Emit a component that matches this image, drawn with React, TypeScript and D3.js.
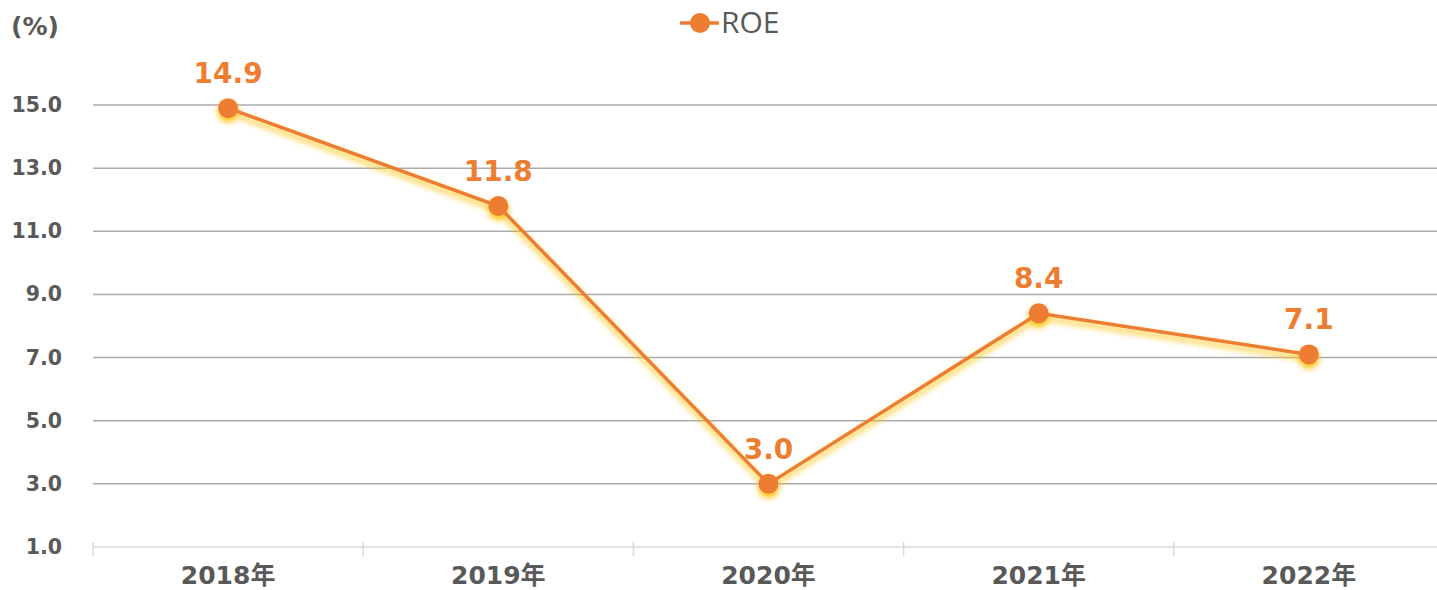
import React, { useEffect, useRef } from "react";
import * as d3 from "d3";

const years = ["2018年", "2019年", "2020年", "2021年", "2022年"];
const roe = [14.9, 11.8, 3.0, 8.4, 7.1];
const yTicks = [1, 3, 5, 7, 9, 11, 13, 15];

const ORANGE = "#ED7D31";
const TEXT = "#595959";
const FONT = "'DejaVu Sans', Verdana, 'Noto Sans CJK JP', sans-serif";

const App = () => {
  const ref = useRef<SVGSVGElement>(null);

  useEffect(() => {
    const width = 1437, height = 590;
    const svg = d3.select(ref.current).attr("width", width).attr("height", height);
    svg.selectAll("*").remove();

    const defs = svg.append("defs");
    const f = defs.append("filter").attr("id", "glow")
      .attr("x", "-20%").attr("y", "-20%").attr("width", "140%").attr("height", "140%");
    f.append("feDropShadow")
      .attr("dx", 0).attr("dy", 4).attr("stdDeviation", 3)
      .attr("flood-color", "#FFC000").attr("flood-opacity", 1);

    const left = 93, right = 1444, top = 105, bottom = 547;

    const x = d3.scaleBand().domain(years).range([left, right]);
    const y = d3.scaleLinear().domain([1, 15]).range([bottom, top]);

    // gridlines
    svg.append("g").selectAll("line")
      .data(yTicks.filter(t => t > 1))
      .enter().append("line")
      .attr("x1", left).attr("x2", right)
      .attr("y1", d => y(d)).attr("y2", d => y(d))
      .attr("stroke", "#ABABAB").attr("stroke-width", 1.5);

    // x axis
    const xa = svg.append("g");
    xa.append("line").attr("x1", left).attr("x2", right)
      .attr("y1", bottom).attr("y2", bottom)
      .attr("stroke", "#D9D9D9").attr("stroke-width", 1.5);
    const bounds = years.map((d) => x(d)!).concat([right]);
    xa.selectAll(".tk").data(bounds).enter().append("line")
      .attr("x1", d => d).attr("x2", d => d)
      .attr("y1", bottom - 5).attr("y2", bottom + 9)
      .attr("stroke", "#D9D9D9").attr("stroke-width", 1.5);
    xa.selectAll("text").data(years).enter().append("text")
      .attr("x", d => x(d)! + x.bandwidth() / 2)
      .attr("y", 584)
      .attr("text-anchor", "middle")
      .attr("font-family", FONT).attr("font-weight", "bold")
      .attr("font-size", 25).attr("fill", TEXT)
      .text(d => d);

    // y labels
    svg.append("g").selectAll("text").data(yTicks).enter().append("text")
      .attr("x", 62).attr("y", d => y(d) + 7)
      .attr("text-anchor", "end")
      .attr("font-family", FONT).attr("font-weight", "bold")
      .attr("font-size", 20.5).attr("fill", TEXT)
      .text(d => d.toFixed(1));

    svg.append("text").attr("x", 11).attr("y", 35)
      .attr("font-family", FONT).attr("font-weight", "bold")
      .attr("font-size", 25).attr("fill", TEXT).text("(%)");

    // line
    const cx = (i: number) => x(years[i])! + x.bandwidth() / 2;
    const line = d3.line<number>().x((d, i) => cx(i)).y(d => y(d));
    const g = svg.append("g").attr("filter", "url(#glow)");
    g.append("path").datum(roe).attr("d", line)
      .attr("fill", "none").attr("stroke", ORANGE).attr("stroke-width", 3.5);
    g.selectAll("circle").data(roe).enter().append("circle")
      .attr("cx", (d, i) => cx(i)).attr("cy", d => y(d)).attr("r", 10)
      .attr("fill", ORANGE);

    svg.append("g").selectAll("text").data(roe).enter().append("text")
      .attr("x", (d, i) => cx(i)).attr("y", d => y(d) - 25)
      .attr("text-anchor", "middle")
      .attr("font-family", FONT).attr("font-weight", "bold")
      .attr("font-size", 28).attr("fill", ORANGE)
      .text(d => d.toFixed(1));

    // legend
    const lg = svg.append("g");
    lg.append("line").attr("x1", 680).attr("x2", 719).attr("y1", 23).attr("y2", 23)
      .attr("stroke", ORANGE).attr("stroke-width", 3.5);
    lg.append("circle").attr("cx", 700).attr("cy", 23).attr("r", 10).attr("fill", ORANGE);
    lg.append("text").attr("x", 721).attr("y", 33)
      .attr("font-family", "'Open Sans', 'Noto Sans', sans-serif")
      .attr("font-size", 30).attr("fill", TEXT).text("ROE");
  }, []);

  return <svg ref={ref} style={{ position: "absolute", left: 0, top: 0 }}></svg>;
};

export default App;
